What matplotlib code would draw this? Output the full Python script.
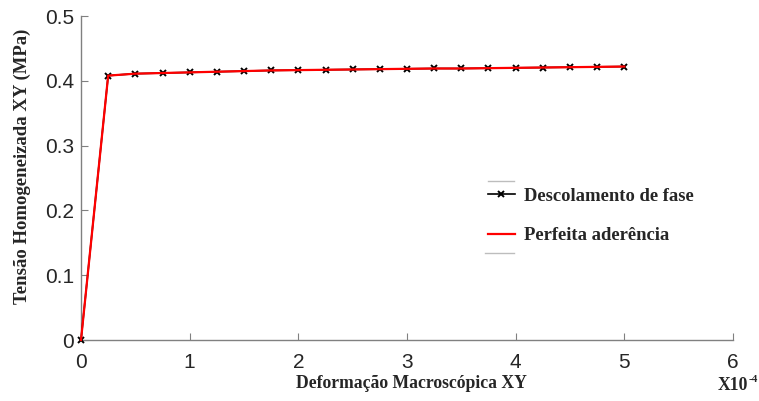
import matplotlib
matplotlib.use("Agg")
import matplotlib.pyplot as plt
from matplotlib.lines import Line2D

strain = [0, 0.25, 0.5, 0.75, 1.0, 1.25, 1.5, 1.75, 2.0, 2.25, 2.5, 2.75, 3.0,
          3.25, 3.5, 3.75, 4.0, 4.25, 4.5, 4.75, 5.0]
stress_desc = [0, 0.408, 0.411, 0.412, 0.413, 0.414, 0.415, 0.416, 0.4165, 0.417,
               0.4175, 0.418, 0.4185, 0.419, 0.419, 0.4195, 0.420, 0.4205, 0.421,
               0.4215, 0.422]
stress_perf = list(stress_desc)

xticks = [0, 1, 2, 3, 4, 5, 6]
yticks = [0, 0.1, 0.2, 0.3, 0.4, 0.5]
yticklabels = ["0", "0.1", "0.2", "0.3", "0.4", "0.5"]

W, H = 759, 401
fig = plt.figure(figsize=(W / 100, H / 100), dpi=100)
ax = fig.add_axes([81 / W, 1 - 340 / H, (733 - 81) / W, (340 - 16) / H])

ax.plot(strain, stress_desc, color="black", marker="x", markersize=5,
        markeredgewidth=1.4, linewidth=1.2, label="Descolamento de fase",
        clip_on=False, zorder=3)
ax.plot(strain, stress_perf, color="#ff0000", linewidth=1.6, label="Perfeita aderência",
        clip_on=False, zorder=4)

ax.set_xlim(0, 6)
ax.set_ylim(0, 0.5)
ax.set_xticks(xticks)
ax.set_xticklabels([str(t) for t in xticks])
ax.set_yticks(yticks)
ax.set_yticklabels(yticklabels)

for s in ["top", "right"]:
    ax.spines[s].set_visible(False)
for s in ["left", "bottom"]:
    ax.spines[s].set_color("#808080")
    ax.spines[s].set_linewidth(1.0)

ax.tick_params(direction="in", length=5, color="#808080", labelsize=15,
               labelcolor="#262626", pad=5)
ax.tick_params(axis="x", pad=9)
for lab in ax.get_xticklabels() + ax.get_yticklabels():
    lab.set_family("Liberation Sans")

serif = dict(family="Liberation Serif", weight="bold", color="#262626")
fig.text(411 / W, 1 - 384 / H, "Deformação Macroscópica XY", ha="center",
         va="center", size=12.7, **serif)
fig.text(22 / W, 1 - 166 / H, "Tensão Homogeneizada XY (MPa)", ha="center",
         va="center", rotation=90, size=13.5, **serif)
fig.text(718 / W, 1 - 385 / H, "X10", ha="left", va="center", size=12.7, **serif)
fig.text(748.5 / W, 1 - 379 / H, "-4", ha="left", va="center", size=8, **serif)

leg = ax.legend(loc="center left", bbox_to_anchor=((488 - 81) / (733 - 81), (340 - 216) / 324),
                frameon=False,
                prop=dict(family="Liberation Serif", weight="bold", size=13.4),
                labelspacing=1.2, handlelength=1.45, handletextpad=0.5,
                borderpad=0, borderaxespad=0)
for t in leg.get_texts():
    t.set_color("#262626")

fig.add_artist(Line2D([488 / W, 514 / W], [1 - 181 / H, 1 - 181 / H],
                      color="#bdbdbd", linewidth=1.0))
fig.add_artist(Line2D([485 / W, 514 / W], [1 - 253 / H, 1 - 253 / H],
                      color="#bdbdbd", linewidth=1.0))

fig.savefig("out.png", dpi=100)
